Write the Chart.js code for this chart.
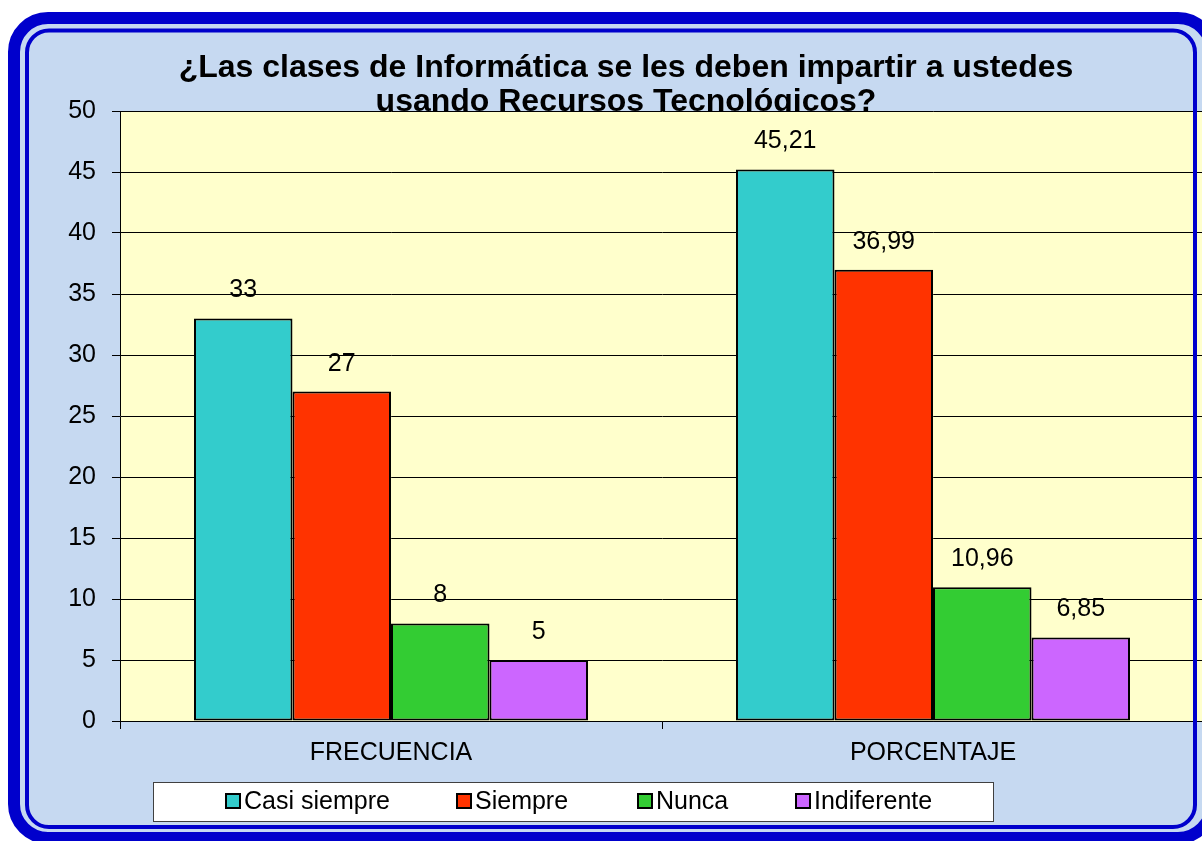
<!DOCTYPE html>
<html>
<head>
<meta charset="utf-8">
<script src="https://cdn.jsdelivr.net/npm/chart.js@4"></script>
<style>
  html, body { margin: 0; padding: 0; background: #ffffff; overflow: hidden; }
  #wrap { width: 1202px; height: 841px; overflow: hidden; position: relative; }
  canvas { display: block; }
</style>
</head>
<body>
<div id="wrap"><canvas id="grafico" width="1220" height="841"></canvas></div>
<script>
// Datos
const categorias = ['FRECUENCIA', 'PORCENTAJE'];
const nombresSeries = ['Casi siempre', 'Siempre', 'Nunca', 'Indiferente'];
const casiSiempre = [33, 45.21];
const siempre = [27, 36.99];
const nunca = [8, 10.96];
const indiferente = [5, 6.85];
const ejeYMin = 0;
const ejeYMax = 50;
const ejeYPaso = 5;
const tituloLineas = ['¿Las clases de Informática se les deben impartir a ustedes', 'usando Recursos Tecnológicos?'];

// Colores
const colores = ['#33cccc', '#ff3300', '#33cc33', '#cc66ff'];
const azulMarco = '#0000cc';
const fondoMarco = '#c6d9f1';
const fondoGrafico = '#ffffcc';
const fuente = '"Liberation Sans", Arial, sans-serif';

const valoresSeries = [casiSiempre, siempre, nunca, indiferente];

function formatoComa(v) {
    return String(v).replace('.', ',');
}

// Marco, título y fondo del área de trazado
const marcoPlugin = {
    id: 'marco',
    beforeDraw(chart) {
        const ctx = chart.ctx;
        const a = chart.chartArea;
        ctx.save();
        ctx.fillStyle = '#ffffff';
        ctx.fillRect(0, 0, chart.width, chart.height);
        ctx.beginPath();
        ctx.roundRect(14, 18, 1198, 820, 34);
        ctx.fillStyle = fondoMarco;
        ctx.fill();

        // Título (queda parcialmente tapado por el área de trazado)
        ctx.fillStyle = '#000000';
        ctx.font = 'bold 32px ' + fuente;
        ctx.textAlign = 'center';
        ctx.textBaseline = 'alphabetic';
        ctx.fillText(tituloLineas[0], 626, 77);
        ctx.fillText(tituloLineas[1], 626, 111);

        ctx.fillStyle = fondoGrafico;
        ctx.fillRect(a.left, a.top, a.right - a.left, a.bottom - a.top);
        ctx.restore();
    },
    afterDatasetsDraw(chart) {
        // Etiquetas de datos sobre cada barra
        const ctx = chart.ctx;
        ctx.save();
        ctx.fillStyle = '#000000';
        ctx.font = '25px ' + fuente;
        ctx.textAlign = 'center';
        ctx.textBaseline = 'alphabetic';
        chart.data.datasets.forEach((ds, i) => {
            chart.getDatasetMeta(i).data.forEach((bar, j) => {
                ctx.fillText(formatoComa(ds.data[j]), bar.x, bar.y - 21);
            });
        });
        ctx.restore();
    },
    afterDraw(chart) {
        const ctx = chart.ctx;
        ctx.save();
        // Leyenda
        ctx.fillStyle = '#ffffff';
        ctx.fillRect(153, 782, 840, 39);
        ctx.strokeStyle = '#404040';
        ctx.lineWidth = 1;
        ctx.strokeRect(153.5, 782.5, 840, 39);
        const posX = [226, 457, 638, 796];
        ctx.font = '25px ' + fuente;
        ctx.textAlign = 'left';
        ctx.textBaseline = 'alphabetic';
        chart.data.datasets.forEach((ds, i) => {
            ctx.fillStyle = ds.backgroundColor;
            ctx.fillRect(posX[i], 794, 14, 14);
            ctx.strokeStyle = '#000000';
            ctx.lineWidth = 2;
            ctx.strokeRect(posX[i], 794, 14, 14);
            ctx.fillStyle = '#000000';
            ctx.fillText(ds.label, posX[i] + 18, 809);
        });

        // Bordes azules del marco
        ctx.strokeStyle = azulMarco;
        ctx.lineWidth = 12;
        ctx.beginPath();
        ctx.roundRect(14, 18, 1198, 820, 34);
        ctx.stroke();
        ctx.lineWidth = 4;
        ctx.beginPath();
        ctx.roundRect(27, 30.5, 1168, 796.5, 22);
        ctx.stroke();
        ctx.restore();
    }
};

const ctxGrafico = document.getElementById('grafico');
new Chart(ctxGrafico, {
    type: 'bar',
    data: {
        labels: categorias,
        datasets: nombresSeries.map((nombre, i) => ({
            label: nombre,
            data: valoresSeries[i],
            backgroundColor: colores[i],
            borderColor: '#000000',
            borderWidth: 2,
            borderSkipped: false,
            categoryPercentage: 0.727,
            barPercentage: 1.0
        }))
    },
    options: {
        responsive: false,
        animation: false,
        layout: {
            padding: { left: 0, top: 111, right: 16, bottom: 0 }
        },
        plugins: {
            legend: { display: false },
            tooltip: { enabled: false },
            title: { display: false }
        },
        scales: {
            x: {
                grid: {
                    drawOnChartArea: false,
                    drawTicks: true,
                    tickLength: 8,
                    color: '#000000',
                    lineWidth: 1
                },
                border: { display: true, color: '#000000', width: 1 },
                ticks: {
                    color: '#000000',
                    padding: 9,
                    font: { family: fuente, size: 25 }
                },
                afterFit(scale) { scale.height = 120; }
            },
            y: {
                min: ejeYMin,
                max: ejeYMax,
                grid: {
                    color: '#000000',
                    lineWidth: 1,
                    drawTicks: true,
                    tickLength: 8
                },
                border: { display: true, color: '#000000', width: 1 },
                ticks: {
                    stepSize: ejeYPaso,
                    color: '#000000',
                    padding: 16,
                    font: { family: fuente, size: 25 }
                },
                afterFit(scale) { scale.width = 120; }
            }
        }
    },
    plugins: [marcoPlugin]
});
</script>
</body>
</html>
